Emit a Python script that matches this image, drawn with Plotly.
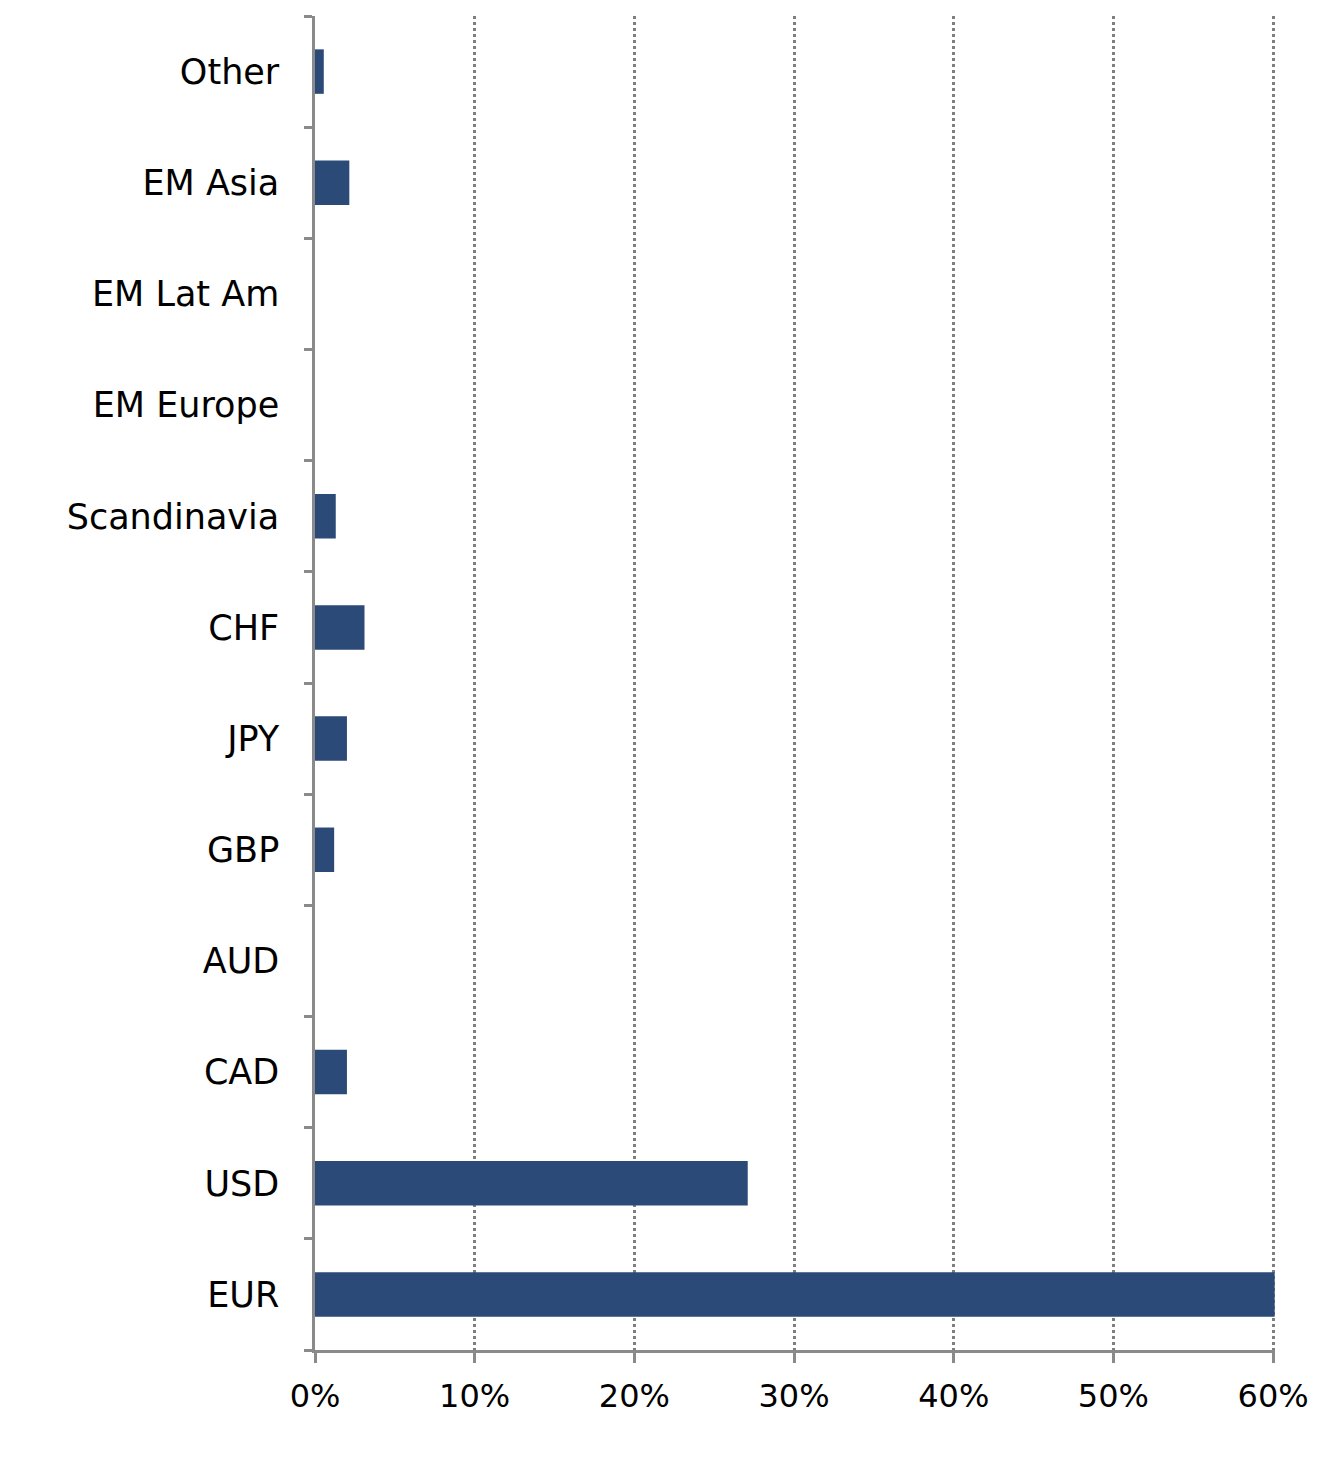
import plotly.graph_objects as go

categories = ["EUR", "USD", "CAD", "AUD", "GBP", "JPY", "CHF", "Scandinavia",
              "EM Europe", "EM Lat Am", "EM Asia", "Other"]
values = [60.1, 27.1, 2.0, 0.0, 1.2, 2.0, 3.1, 1.3, 0.0, 0.0, 2.15, 0.55]
x_ticks = [0, 10, 20, 30, 40, 50, 60]
x_tick_labels = ["0%", "10%", "20%", "30%", "40%", "50%", "60%"]

FONT = "DejaVu Sans"
AXIS = "#8a8a8a"

fig = go.Figure(go.Bar(
    y=categories,
    x=values,
    orientation="h",
    marker=dict(color="#2B4A78", line=dict(width=0)),
    cliponaxis=False,
))

fig.update_layout(
    width=1342,
    height=1484,
    margin=dict(l=315, r=67, t=16, b=134),
    paper_bgcolor="white",
    plot_bgcolor="white",
    bargap=0.6,
    showlegend=False,
    font=dict(family=FONT, size=34, color="black"),
)

fig.update_xaxes(
    range=[0, 60.12],
    tickvals=x_ticks,
    ticktext=x_tick_labels,
    showgrid=True,
    gridcolor="#7f7f7f",
    gridwidth=2.5,
    griddash="dot",
    zeroline=False,
    showline=True,
    linecolor=AXIS,
    linewidth=2.5,
    ticks="outside",
    ticklen=10,
    tickwidth=2.5,
    tickcolor=AXIS,
    ticklabelstandoff=6,
    tickfont=dict(family=FONT, size=32, color="black"),
)

fig.update_yaxes(
    type="category",
    categoryorder="array",
    categoryarray=categories,
    tickson="boundaries",
    showgrid=False,
    showline=True,
    linecolor=AXIS,
    linewidth=2.5,
    ticks="outside",
    ticklen=8,
    tickwidth=2.5,
    tickcolor=AXIS,
    ticklabelstandoff=26,
    tickfont=dict(family=FONT, size=35, color="black"),
)

fig.write_html("out.html")
